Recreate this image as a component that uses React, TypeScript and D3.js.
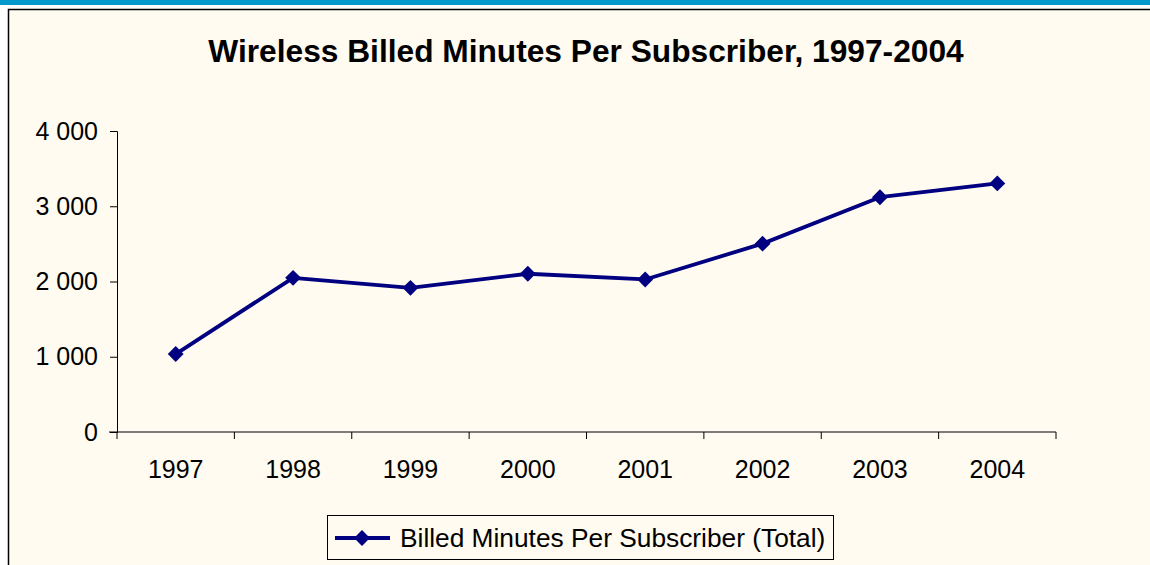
import React, { useEffect, useRef } from "react";
import * as d3 from "d3";

const years = ["1997", "1998", "1999", "2000", "2001", "2002", "2003", "2004"];
const minutes = [1036, 2049, 1916, 2103, 2027, 2503, 3120, 3303];
const yTicks = [0, 1000, 2000, 3000, 4000];
const seriesName = "Billed Minutes Per Subscriber (Total)";
const title = "Wireless Billed Minutes Per Subscriber, 1997-2004";

const W = 1150;
const H = 565;
const font = "'Liberation Sans', Arial, sans-serif";
const navy = "#000080";

const App: React.FC = () => {
  const svgRef = useRef<SVGSVGElement | null>(null);

  useEffect(() => {
    if (!svgRef.current) return;
    const svg = d3.select(svgRef.current);
    svg.selectAll("*").remove();

    const margin = { top: 131, left: 117, right: 94, bottom: 133 };

    // slide chrome
    svg.append("rect").attr("x", 0).attr("y", 0).attr("width", W).attr("height", H).attr("fill", "#ffffff");
    svg.append("rect").attr("x", 0).attr("y", 0).attr("width", W).attr("height", 5).attr("fill", "#0399cc");
    svg.append("rect").attr("x", 8.5).attr("y", 9.5).attr("width", W + 20).attr("height", H + 20)
      .attr("fill", "#fffbf0").attr("stroke", "#000").attr("stroke-width", 1.5);

    const x = d3.scaleBand<string>()
      .domain(years)
      .range([margin.left, W - margin.right]);

    const y = d3.scaleLinear()
      .domain([0, 4000])
      .range([H - margin.bottom, margin.top]);

    svg.append("text")
      .attr("x", 586)
      .attr("y", 62)
      .attr("text-anchor", "middle")
      .style("font-family", font)
      .style("font-size", "31.7px")
      .style("font-weight", "bold")
      .style("fill", "#000")
      .text(title);

    // y axis
    const yAxis = d3.axisLeft(y)
      .tickValues(yTicks)
      .tickSize(7)
      .tickPadding(12)
      .tickFormat(d => d3.format(",")(d as number).replace(/,/g, " "));
    const gy = svg.append("g")
      .attr("transform", `translate(${margin.left},0)`)
      .call(yAxis);
    gy.selectAll("text")
      .style("font-family", font)
      .style("font-size", "25px")
      .style("fill", "#000");

    // x axis with ticks at band boundaries
    const baseY = H - margin.bottom;
    const gx = svg.append("g").attr("transform", `translate(0,${baseY})`);
    gx.append("line")
      .attr("x1", margin.left - 8)
      .attr("x2", W - margin.right)
      .attr("stroke", "#000");
    const bounds = years.map(d => x(d) as number).concat([W - margin.right]);
    gx.selectAll("line.tk")
      .data(bounds)
      .enter()
      .append("line")
      .attr("class", "tk")
      .attr("x1", d => d)
      .attr("x2", d => d)
      .attr("y1", 0)
      .attr("y2", 7)
      .attr("stroke", "#000");
    gx.selectAll("text")
      .data(years)
      .enter()
      .append("text")
      .attr("x", d => (x(d) as number) + x.bandwidth() / 2)
      .attr("y", 46)
      .attr("text-anchor", "middle")
      .style("font-family", font)
      .style("font-size", "25px")
      .style("fill", "#000")
      .text(d => d);

    gy.selectAll(".domain").attr("stroke", "#000");
    gy.selectAll(".tick line").attr("stroke", "#000");

    const cx = (i: number) => (x(years[i]) as number) + x.bandwidth() / 2;

    const line = d3.line<number>()
      .x((_, i) => cx(i))
      .y(d => y(d));

    svg.append("path")
      .datum(minutes)
      .attr("d", line)
      .attr("fill", "none")
      .attr("stroke", navy)
      .attr("stroke-width", 3.8)
      .attr("stroke-linejoin", "round");

    const diamond = d3.symbol().type(d3.symbolDiamond2).size(160);
    svg.selectAll("path.pt")
      .data(minutes)
      .enter()
      .append("path")
      .attr("class", "pt")
      .attr("d", diamond)
      .attr("transform", (d, i) => `translate(${cx(i)},${y(d)})`)
      .attr("fill", navy);

    // legend
    const lg = svg.append("g");
    lg.append("rect")
      .attr("x", 327.5)
      .attr("y", 515.5)
      .attr("width", 506)
      .attr("height", 44)
      .attr("fill", "#fffbf0")
      .attr("stroke", "#000")
      .attr("stroke-width", 1);
    lg.append("line")
      .attr("x1", 335)
      .attr("x2", 390)
      .attr("y1", 538)
      .attr("y2", 538)
      .attr("stroke", navy)
      .attr("stroke-width", 3.8);
    lg.append("path")
      .attr("d", diamond)
      .attr("transform", "translate(362,538)")
      .attr("fill", navy);
    lg.append("text")
      .attr("x", 400)
      .attr("y", 547)
      .style("font-family", font)
      .style("font-size", "26.3px")
      .style("fill", "#000")
      .text(seriesName);
  }, []);

  return (
    <div style={{ position: "absolute", left: 0, top: 0, width: W, height: H, overflow: "hidden" }}>
      <svg ref={svgRef} width={W} height={H} style={{ display: "block" }} />
    </div>
  );
};

export default App;
